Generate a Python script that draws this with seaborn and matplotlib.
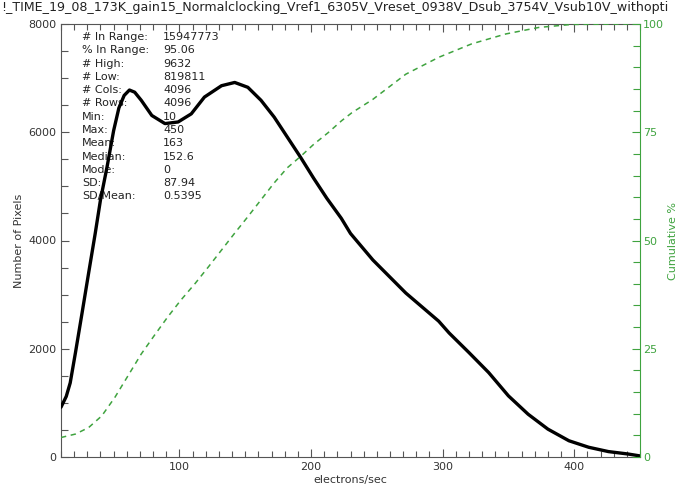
import numpy as np
import pandas as pd
import seaborn as sns
import matplotlib.pyplot as plt
from matplotlib.ticker import MultipleLocator

# histogram (centre of the noisy trace)
electrons = [10, 14, 17, 21, 26, 31, 36, 40, 45, 50, 54, 58, 62, 66, 71, 79, 89, 99,
             109, 119, 132, 142, 152, 162, 172, 182, 192, 202, 212, 223, 230,
             247, 272, 297, 305, 320, 335, 350, 365, 380, 396, 411, 426, 441, 450]
pixels = [920, 1120, 1370, 1930, 2660, 3400, 4130, 4750, 5360, 6030, 6450, 6680,
          6780, 6740, 6590, 6310, 6160, 6190, 6340, 6650, 6860, 6920, 6830, 6590,
          6280, 5910, 5540, 5150, 4780, 4410, 4130, 3640, 3030, 2510, 2290, 1930,
          1560, 1130, 790, 515, 300, 180, 100, 55, 20]

# cumulative percentage curve
cum_x = [10, 21, 31, 41, 51, 61, 71, 81, 91, 101, 112, 122, 132, 142, 152, 162,
         172, 182, 192, 202, 213, 223, 231, 247, 272, 297, 322, 348, 373, 398, 450]
cum_pct = [4.5, 5.3, 6.8, 9.5, 13.8, 18.8, 23.8, 28.1, 32.3, 36.2, 40.1, 43.9,
           47.8, 51.7, 55.5, 59.4, 63.3, 66.8, 69.4, 72.2, 74.9, 77.6, 79.5, 82.6,
           88.4, 92.3, 95.4, 97.7, 99.2, 99.9, 100]

stat_labels = ['# In Range:', '% In Range:', '# High:', '# Low:', '# Cols:', '# Rows:',
               'Min:', 'Max:', 'Mean:', 'Median:', 'Mode:', 'SD:', 'SD/Mean:']
stat_values = ['15947773', '95.06', '9632', '819811', '4096', '4096',
               '10', '450', '163', '152.6', '0', '87.94', '0.5395']

title = '!_TIME_19_08_173K_gain15_Normalclocking_Vref1_6305V_Vreset_0938V_Dsub_3754V_Vsub10V_withopti'

sns.set_style('ticks')
plt.rcParams['font.family'] = ['DejaVu Sans']
green = '#3fa33f'
axcol = '#555555'

fig = plt.figure(figsize=(6.8, 4.91), dpi=100)
ax = fig.add_axes([61 / 680, 34 / 491, 579 / 680, 433 / 491])

hist = pd.DataFrame({'x': electrons, 'y': pixels})
sns.lineplot(data=hist, x='x', y='y', ax=ax, color='black', linewidth=2.4,
             estimator=None, sort=False, zorder=3)

ax.set_xlim(10, 450)
ax.set_ylim(0, 8000)
ax.xaxis.set_major_locator(MultipleLocator(100))
ax.xaxis.set_minor_locator(MultipleLocator(10))
ax.yaxis.set_major_locator(MultipleLocator(2000))
ax.yaxis.set_minor_locator(MultipleLocator(500))
ax.tick_params(which='both', direction='in', top=True, bottom=True, left=True,
               right=False, colors=axcol, labelcolor='#333333', labelsize=8)
ax.tick_params(which='major', length=6, width=0.8)
ax.tick_params(which='minor', length=4, width=0.8)
ax.tick_params(axis='y', which='minor', length=5)
for s in ['left', 'bottom', 'top']:
    ax.spines[s].set_color(axcol)
ax.spines['right'].set_visible(False)
ax.set_xlabel('electrons/sec', fontsize=8, color='#333333', labelpad=2)
ax.set_ylabel('Number of Pixels', fontsize=8, color='#333333', labelpad=3)

for i, (lab, val) in enumerate(zip(stat_labels, stat_values)):
    yy = 1 - (37 - 24 + i * 13.28) / 433
    ax.text(21 / 579, yy, lab, transform=ax.transAxes, fontsize=8,
            color='#222222', va='center', ha='left', zorder=1)
    ax.text(102 / 579, yy, val, transform=ax.transAxes, fontsize=8,
            color='#222222', va='center', ha='left', zorder=1)

ax2 = ax.twinx()
cum = pd.DataFrame({'x': cum_x, 'y': cum_pct})
sns.lineplot(data=cum, x='x', y='y', ax=ax2, color=green, linewidth=1.1,
             estimator=None, sort=False)
ax2.lines[0].set_dashes((3.5, 3))
ax2.set_ylim(0, 100)
ax2.yaxis.set_major_locator(MultipleLocator(25))
ax2.yaxis.set_minor_locator(MultipleLocator(5))
ax2.tick_params(which='both', direction='in', right=True, left=False,
                colors=green, labelsize=8, width=0.8, pad=2)
ax2.tick_params(which='major', length=6)
ax2.tick_params(which='minor', length=5)
ax2.spines['right'].set_color(green)
for s in ['left', 'top', 'bottom']:
    ax2.spines[s].set_visible(False)
ax2.set_ylabel('Cumulative %', fontsize=8, color=green, labelpad=3)
ax2.set_xlabel('')

fig.text(0.001, 1 - 8 / 491, title, fontsize=9.1, color='#222222',
         ha='left', va='center')

fig.savefig('out.png', dpi=100)
